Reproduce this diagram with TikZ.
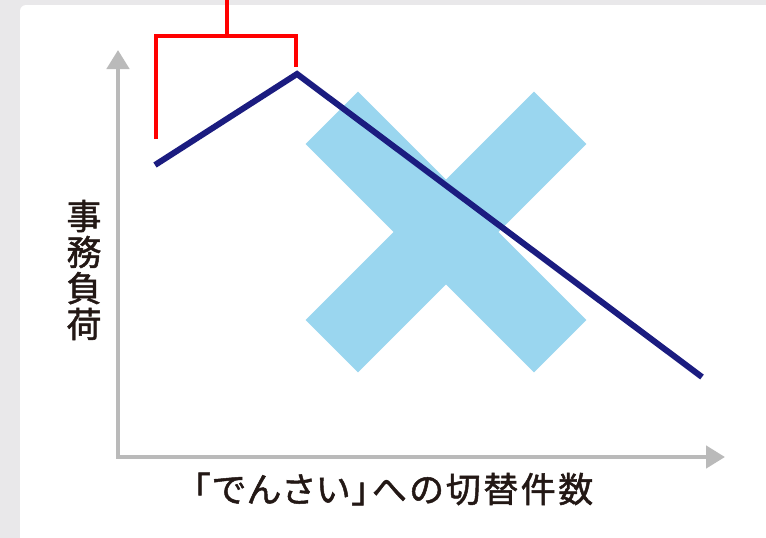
\documentclass[tikz,border=0pt]{standalone}
\usepackage{fontspec}
\newfontfamily\jp{Noto Sans CJK JP}[RawFeature=+palt,FakeBold=1.4]
\newfontfamily\jpwide{Noto Sans CJK JP}[RawFeature=+palt,FakeBold=1.4,LetterSpace=7]
\usetikzlibrary{arrows.meta}
\definecolor{bggray}{HTML}{E9E8EA}
\definecolor{axisgray}{HTML}{BABABA}
\definecolor{xblue}{HTML}{9AD6EF}
\definecolor{navy}{HTML}{1B1C80}
\definecolor{ink}{HTML}{231815}
\tikzset{
  axisline/.style={draw=axisgray,line width=4.5pt,line join=miter,
    {Triangle[length=19pt,width=22pt]}-{Triangle[length=19pt,width=22pt]}},
  xarm/.style={fill=xblue,draw=none,minimum width=323pt,minimum height=74pt,inner sep=0pt,shape=rectangle},
  trend/.style={draw=navy,line width=6pt,line join=miter},
  bracket/.style={draw=red,line width=4pt,line join=miter},
  label/.style={text=ink,font=\jp\fontsize{35}{36}\selectfont,inner sep=0pt,align=center},
  widelabel/.style={label,font=\jpwide\fontsize{35}{36}\selectfont}
}
\begin{document}
\begin{tikzpicture}[x=1pt,y=-1pt]
\useasboundingbox (0,0) rectangle (766,538);
\fill[bggray] (0,0) rectangle (766,538);
\fill[white,rounded corners=6pt] (20,5) rectangle (790,560);
% cross
\node[xarm,rotate=45] (armA) at (446,232) {};
\node[xarm,rotate=-45] (armB) at (446,232) {};
% axes
\coordinate (ytip) at (118,50);
\coordinate (origin) at (118,457);
\coordinate (xtip) at (725,457);
\draw[axisline] (ytip) -- (origin) -- (xtip);
% trend line
\coordinate (start) at (155,165);
\coordinate (peak) at (297,74);
\coordinate (finish) at (702,377);
\draw[trend] (start) -- (peak) -- (finish);
% bracket
\coordinate (bl) at (156,139);
\coordinate (tl) at (156,36);
\coordinate (tr) at (296,36);
\coordinate (br) at (296,67);
\coordinate (stemtop) at (227,-2);
\coordinate (stembot) at (227,36);
\draw[bracket] (bl) -- (tl) -- (tr) -- (br);
\draw[bracket] (stemtop) -- (stembot);
% labels
\node[label] (ylabel) at (84,270) {事\\務\\負\\荷};
\node[widelabel] (xlabel) at (393,489) {「でんさい」への切替件数};
\end{tikzpicture}
\end{document}
